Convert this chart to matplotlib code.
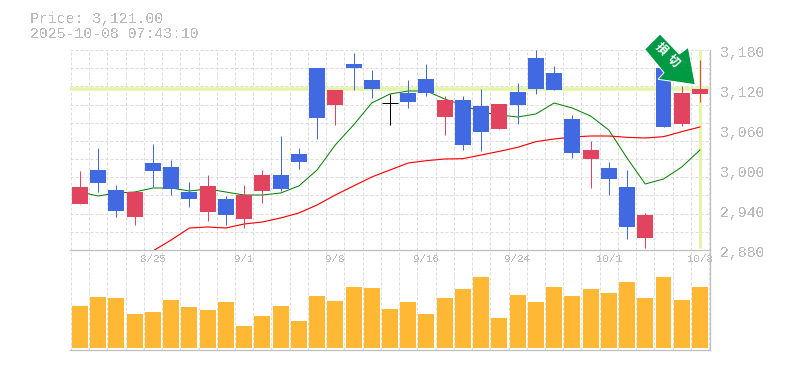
import numpy as np
import matplotlib
matplotlib.use('Agg')
import matplotlib.pyplot as plt
from matplotlib.patches import Polygon
from matplotlib.transforms import offset_copy

# data
opens = [2974.5, 2980.5, 2938.5, 2967, 2998.5, 2971.5, 2956.5, 2976, 2932.5, 2962.5, 2992.5, 2971.5,
         3012, 3078, 3120, 3153, 3121.5, 3100.5, 3102, 3115.5, 3105, 3037.5, 3057, 3099,
         3097.5, 3121.5, 3120, 3025.5, 3030, 2986.5, 2914.5, 2932.5, 3064.5, 3115.5, 3121.5]
closes = [2949, 3000, 2970, 2929.5, 3010.5, 3004.5, 2967, 2937, 2956.5, 2926.5, 2968.5, 2992.5,
          3024, 3153, 3097.5, 3159, 3135, 3100.5, 3115.5, 3136.5, 3079.5, 3105, 3096, 3061.5,
          3117, 3168, 3145.5, 3076.5, 3016.5, 3003, 2974.5, 2898, 3153, 3069, 3114]
highs = [2998.5, 3033, 2977.5, 2967, 3039, 3015, 2982, 2992.5, 2961, 2977.5, 3000, 3051,
         3033, 3153, 3120, 3175.5, 3150, 3114, 3135, 3159, 3111, 3111, 3121.5, 3099,
         3130.5, 3180, 3156, 3082.5, 3043.5, 3012, 3000, 2935.5, 3153, 3126, 3165]
lows = [2949, 2967, 2929.5, 2917.5, 2974.5, 2962.5, 2944.5, 2923.5, 2917.5, 2913, 2950.5, 2968.5,
        3001.5, 3046.5, 3067.5, 3120, 3108, 3067.5, 3093, 3111, 3052.5, 3030, 3028.5, 3061.5,
        3069, 3114, 3120, 3018, 2973, 2962.5, 2896.5, 2883, 3064.5, 3066, 3102]
ma_short = [2967, 2961, 2965.5, 2967, 2973, 2973, 2968.5, 2971.5, 2967, 2962.5, 2962.5, 2965.5,
            2976, 3000, 3037.5, 3067.5, 3100.5, 3114, 3118.5, 3118.5, 3106.5, 3097.5, 3087, 3082.5,
            3079.5, 3084, 3100.5, 3093, 3081, 3060, 3018, 2979, 2986.5, 3004.5, 3030]
ma_long = [np.nan, np.nan, np.nan, np.nan, 2878.5, 2895, 2913, 2914.5, 2913, 2919, 2922, 2928,
           2935.5, 2947.5, 2962.5, 2976, 2989.5, 3000, 3010.5, 3014, 3016.5, 3017, 3022.5, 3028,
           3034, 3042.5, 3046.5, 3049.5, 3051, 3051, 3049, 3048, 3050, 3057.5, 3064.5]
volumes = [42, 51, 50, 34, 36, 48, 41, 38, 46, 22, 32, 42, 27, 52, 47, 61, 60, 39,
           46, 34, 50, 59, 71, 30, 53, 46, 61, 52, 59, 55, 66, 50, 71, 48, 61]
price_ticks = [2880, 2940, 3000, 3060, 3120, 3180]
date_pos = [4, 9, 14, 19, 24, 29, 34]
date_labels = ['8/25', '9/1', '9/8', '9/16', '9/24', '10/1', '10/8']
last_price = 3121

W, H = 785, 370
GRAY = '#bbbbbb'
GRID = '#dcdcdc'
BLUE = '#4169e1'
RED = '#e2435f'
LIME = '#e4f5a8'
MONO = 'Liberation Mono'
DASH = (0, (3, 2))
PX = 0.72

plt.rcParams['font.family'] = [MONO, 'DejaVu Sans']
plt.rcParams['text.antialiased'] = False

fig = plt.figure(figsize=(W / 100, H / 100), dpi=100)
ax = fig.add_axes([70 / W, 1 - 250 / H, 640 / W, 200 / H])
vol = fig.add_axes([70 / W, 1 - 350 / H, 640 / W, 100 / H])

x = np.arange(len(opens))
xlim = (-0.548, 34.55)
for a in (ax, vol):
    a.set_xlim(xlim)
    a.patch.set_alpha(0)
    a.tick_params(length=0, labelbottom=False, labelleft=False)
    for s in a.spines.values():
        s.set_visible(False)
    a.spines['right'].set_visible(True)
    a.spines['right'].set_color('#c0c0c0')
    a.spines['right'].set_linewidth(PX * 1.3)
    a.spines['bottom'].set_visible(True)
    a.spines['bottom'].set_color('#c0c0c0')
    a.spines['bottom'].set_linewidth(PX * 1.3)
    a.vlines(np.arange(-0.5, 34.6, 1), 0, 1, transform=a.get_xaxis_transform(),
             color=GRID, lw=PX, linestyles=DASH, zorder=1, snap=True)

ax.set_ylim(2880, 3180)
ax.hlines(np.linspace(2880, 3180, 12)[1:], 0, 1, transform=ax.get_yaxis_transform(),
          color=GRID, lw=PX, linestyles=DASH, zorder=1, snap=True)

# current price cross
ax.axhline(last_price, color=LIME, lw=PX * 3.6, zorder=2)
ax.vlines(34, 2883, 3180, color=LIME, lw=PX * 3, zorder=2)

# moving averages
ax.plot(x, ma_short, color='#008000', lw=PX, zorder=3)
ax.plot(x, ma_long, color='#ff0000', lw=PX * 1.15, zorder=3)

# candles
for i in x:
    if opens[i] == closes[i]:
        c = 'black'
        ax.hlines(opens[i], i - 0.44, i + 0.44, color=c, lw=PX, zorder=4)
    else:
        c = BLUE if closes[i] > opens[i] else RED
        ax.bar(i, abs(closes[i] - opens[i]), 0.877, min(opens[i], closes[i]), color=c, zorder=4)
    ax.vlines(i, lows[i], highs[i], color=c, lw=PX, zorder=4)

# price labels sit a little below their value
label_tr = offset_copy(ax.get_yaxis_transform(), fig=fig, y=-3, units='dots')
for p in price_ticks:
    ax.text(650 / 640, p, f'{p:,}', transform=label_tr, color=GRAY, fontsize=10.7,
            ha='left', va='center', clip_on=False)

# volume
vol.set_ylim(-2, 98)
vol.bar(x, volumes, 0.877, color='#ffb833', zorder=2)
for pos, lab in zip(date_pos, date_labels):
    vol.text(pos, 88.5, lab, color=GRAY, fontsize=7.8, ha='center', va='center', zorder=3)

# header
fig.text(30 / W, 1 - 18.5 / H, f'Price: {last_price:,.2f}', color=GRAY, fontsize=10.7, va='center')
fig.text(30 / W, 1 - 33.5 / H, '2025-10-08 07:43:10', color=GRAY, fontsize=10.7, va='center')

# signal arrow, placed in pixels
arrow_px = [(660, 34), (679.3, 54), (688.3, 47.3), (695.3, 84.7), (658, 79.3), (664, 72.7), (644.7, 49.3)]
arrow = Polygon([(a / W, 1 - b / H) for a, b in arrow_px], closed=True, transform=fig.transFigure,
                facecolor='#009944', edgecolor='white', lw=PX, zorder=10)
fig.add_artist(arrow)
for ch, cx, cy in [('損', 661, 49), ('切', 673, 61)]:
    fig.text(cx / W, 1 - cy / H, ch, color='white', fontsize=8.5, rotation=-45, weight='bold',
             ha='center', va='center', rotation_mode='anchor', zorder=11, antialiased=True,
             family=['Noto Sans CJK JP', 'DejaVu Sans'])

fig.savefig('out.png', dpi=100)
